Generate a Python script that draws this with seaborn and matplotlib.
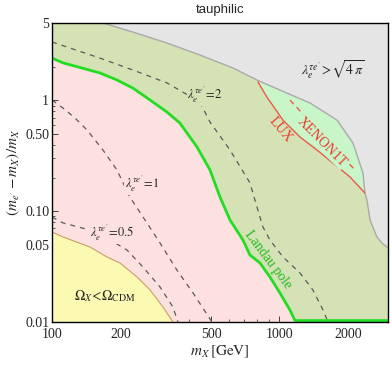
import numpy as np
import pandas as pd
import matplotlib
matplotlib.use("Agg")
import matplotlib.pyplot as plt
import seaborn as sns

sns.set_theme(style="ticks")
plt.rcParams["font.family"] = ["Liberation Serif", "DejaVu Serif"]
plt.rcParams["mathtext.fontset"] = "stix"

# --- data (m_X in GeV, y = (m_e' - m_X)/m_X) ---
gray_x = [167.5, 227, 320, 447, 625, 796, 1005, 1362, 1790, 2104, 2329, 2375, 2425, 2500, 2683, 2822, 3000]
gray_y = [5.0, 4.14, 3.30, 2.57, 1.96, 1.53, 1.24, 0.948, 0.665, 0.413, 0.221, 0.146, 0.126, 0.0833, 0.0585,
          0.0516, 0.0466]

lux_x = [804, 881, 1036, 1231, 1462, 1718, 2041, 2375]
lux_y = [1.47, 1.07, 0.665, 0.467, 0.357, 0.272, 0.204, 0.146]

xenon_x = [1112, 2147]
xenon_y = [1.008, 0.2355]

landau_x = [100, 112, 162.5, 193, 227, 270, 320, 365, 434, 495, 548, 606, 691, 742, 821, 908, 1005, 1112, 1170, 3000]
landau_y = [2.41, 2.18, 1.77, 1.53, 1.29, 1.008, 0.786, 0.625, 0.380, 0.2355, 0.134, 0.0833, 0.0550, 0.0402,
            0.0341, 0.0255, 0.01827, 0.01283, 0.0103, 0.0103]

lam2_x = [100, 162.5, 227, 320, 447, 495, 606, 742, 780, 846, 908, 1036, 1231, 1403, 1554, 1634]
lam2_y = [3.37, 2.41, 1.88, 1.44, 0.967, 0.638, 0.357, 0.180, 0.126, 0.072, 0.0550, 0.0386, 0.0277, 0.01945,
          0.01283, 0.01]

lam1_x = [100, 111.8, 126.2, 142.5, 167.5, 193, 220, 261.6, 298.5, 354, 417, 505]
lam1_y = [1.008, 0.854, 0.694, 0.541, 0.357, 0.2355, 0.134, 0.0783, 0.0516, 0.02946, 0.01827, 0.01]

lam05_x = [100, 112, 146.9, 179.8, 213.6, 251, 298.5, 340, 358]
lam05_y = [0.0887, 0.0783, 0.0676, 0.0550, 0.0447, 0.03135, 0.0207, 0.01366, 0.01]

relic_x = [100, 112, 146.9, 174.5, 199, 236.4, 270, 307.5, 340]
relic_y = [0.0649, 0.0585, 0.0475, 0.0386, 0.0341, 0.0255, 0.01945, 0.01366, 0.01]

x_ticks = [100, 200, 500, 1000, 2000]
x_ticklabels = ["100", "200", "500", "1000", "2000"]
y_ticks = [0.01, 0.05, 0.10, 0.50, 1, 5]
y_ticklabels = ["0.01", "0.05", "0.10", "0.50", "1", "5"]

xmin, xmax = 100, 3000
ymin, ymax = 0.01, 5

pink = "#fde0e0"
olive = "#d5e2b6"
mint = "#c9f6c9"
grey = "#e5e5e5"
yellow = "#fcfab2"

fig = plt.figure(figsize=(3.92, 3.66), dpi=100)
ax = fig.add_axes([52 / 392, 44 / 366, 336 / 392, 299 / 366])
ax.set_xscale("log")
ax.set_yscale("log")
ax.set_xlim(xmin, xmax)
ax.set_ylim(ymin, ymax)
ax.set_facecolor(pink)

# regions
ax.fill_between(landau_x, landau_y, ymax, color=olive, lw=0, zorder=1)
gx = np.array(gray_x)
gy = np.array(gray_y)
sel = (gx > lux_x[0]) & (gx < lux_x[-1])
ax.fill(np.concatenate([lux_x, gx[sel][::-1]]), np.concatenate([lux_y, gy[sel][::-1]]),
        color=mint, lw=0, zorder=2)
ax.fill_between(gray_x, gray_y, ymax, color=grey, lw=0, zorder=3)
ax.fill_between(relic_x, ymin, relic_y, color=yellow, lw=0, zorder=1)

# boundaries
lines = pd.DataFrame({"x": gray_x, "y": gray_y})
sns.lineplot(data=lines, x="x", y="y", sort=False, estimator=None, color="#aaaaaa", lw=1.0, ax=ax, zorder=4)
sns.lineplot(x=relic_x, y=relic_y, sort=False, estimator=None, color="#c4a06a", lw=0.8, ax=ax, zorder=4)
sns.lineplot(x=lux_x, y=lux_y, sort=False, estimator=None, color="#ec5a4c", lw=1.0, ax=ax, zorder=5)
ax.plot(xenon_x, xenon_y, color="#ec5a4c", lw=1.0, ls=(0, (4, 3)), zorder=5)
for cx, cy in [(lam2_x, lam2_y), (lam1_x, lam1_y), (lam05_x, lam05_y)]:
    ax.plot(cx, cy, color="#5a5a5a", lw=0.9, ls=(0, (4, 4)), zorder=4)
sns.lineplot(x=landau_x, y=landau_y, sort=False, estimator=None, color="#22dd22", lw=2.0, ax=ax, zorder=6)

# labels
ax.text(1718, 1.88, r"$\lambda_e^{\tau e'}\!>\!\sqrt{4\,\pi}$", fontsize=10, ha="center", va="center", zorder=7)
ax.text(470, 1.12, r"$\lambda_e^{\tau e'}\!=\!2$", fontsize=9, ha="center", va="center", zorder=7,
        bbox=dict(boxstyle="square,pad=0.05", fc=olive, ec="none"))
ax.text(248.7, 0.176, r"$\lambda_e^{\tau e'}\!=\!1$", fontsize=9, ha="center", va="center", zorder=7,
        bbox=dict(boxstyle="square,pad=0.05", fc=pink, ec="none"))
ax.text(183.5, 0.0636, r"$\lambda_e^{\tau e'}\!=\!0.5$", fontsize=9, ha="center", va="center", zorder=7,
        bbox=dict(boxstyle="square,pad=0.05", fc=pink, ec="none"))
ax.text(171, 0.01717, r"$\Omega_X\!<\!\Omega_{\rm CDM}$", fontsize=10, ha="center", va="center", zorder=7)
ax.text(1005, 0.541, "LUX", color="#ec3a2c", fontsize=10, rotation=-50, ha="center", va="center", zorder=7)
ax.text(1538, 0.421, "XENON1T", color="#ec3a2c", fontsize=10, rotation=-45, ha="center", va="center", zorder=7,
        bbox=dict(boxstyle="square,pad=0.05", fc=mint, ec="none"))
ax.text(890, 0.0363, "Landau pole", color="#22bb22", fontsize=10, rotation=-53, ha="center", va="center", zorder=7)

# axes styling
ax.set_xticks(x_ticks)
ax.set_xticklabels(x_ticklabels)
ax.set_yticks(y_ticks)
ax.set_yticklabels(y_ticklabels)
ax.tick_params(which="both", direction="in", top=True, right=True, labelsize=10)
ax.tick_params(axis="x", pad=4)
ax.tick_params(axis="y", pad=2)
ax.tick_params(which="major", length=4, width=0.6)
ax.tick_params(which="minor", length=2, width=0.5)
for s in ax.spines.values():
    s.set_linewidth(1.0)
    s.set_color("black")
    s.set_zorder(10)
ax.set_xlabel(r"$m_X\,[\mathrm{GeV}]$", fontsize=11, labelpad=2)
ax.set_ylabel(r"$(m_{e'}-m_X)/m_X$", fontsize=11, labelpad=2)
ax.set_title("tauphilic", fontsize=9.5, pad=7, family=["Liberation Sans", "DejaVu Sans"])

fig.savefig("out.png", dpi=100)
